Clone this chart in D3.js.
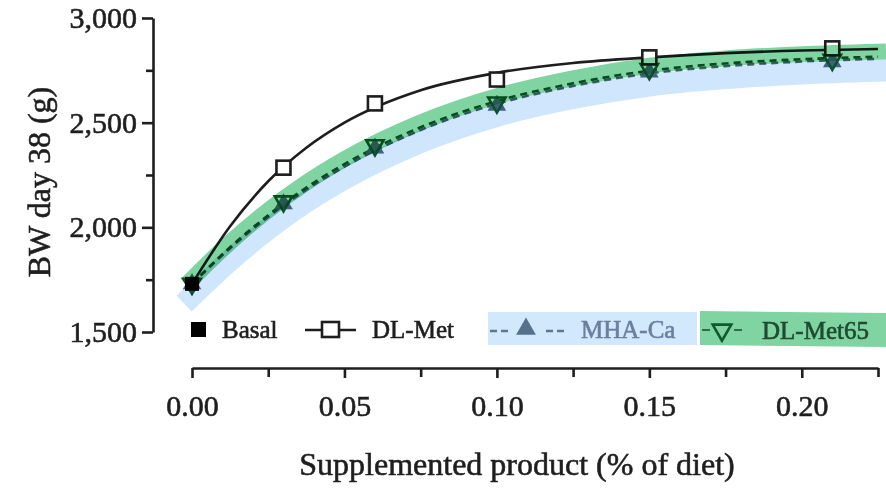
<!DOCTYPE html>
<html>
<head>
<meta charset="utf-8">
<script src="https://cdn.jsdelivr.net/npm/d3@7"></script>
<style>
  body { margin: 0; background: #fff; }
  svg { display: block; font-family: "Liberation Serif", "DejaVu Serif", serif; }
  text { paint-order: stroke; stroke-width: 0.6px; }
</style>
</head>
<body>
<svg id="chart" width="886" height="488"></svg>
<script>
// measured points (x = % of diet)
const doses = [0, 0.03, 0.06, 0.10, 0.15, 0.21];
const basal = [1730];
const dlMet = [1730, 2285, 2592, 2706, 2812, 2855];
const mhaCa = [1730, 2112, 2378, 2582, 2742, 2790];
const dlMet65 = [1730, 2124, 2392, 2596, 2756, 2800];

// fitted curves
const fitX = [0, 0.0125, 0.025, 0.0375, 0.05, 0.075, 0.10, 0.125, 0.15, 0.175, 0.20, 0.225];
const fitDlMet = [1730, 2005, 2220, 2380, 2500, 2655, 2738, 2785, 2812, 2832, 2845, 2852];
const fitMhaCa = [1730, 1900, 2050, 2180, 2290, 2465, 2590, 2675, 2735, 2770, 2792, 2805];
const fitDlMet65 = [1730, 1905, 2058, 2190, 2302, 2478, 2603, 2688, 2748, 2783, 2803, 2815];

const yTicks = [1500, 2000, 2500, 3000];
const yMinor = [1750, 2250, 2750];
const xTicks = [0, 0.05, 0.10, 0.15, 0.20];
const xMinor = [0.025, 0.075, 0.125, 0.175, 0.225];

const svg = d3.select("#chart");
const x = d3.scaleLinear().domain([0, 0.225]).range([192, 878]);
const y = d3.scaleLinear().domain([1500, 3000]).range([332, 18]);
const ink = "#1e1e1e";

// y axis
svg.append("g").attr("transform", "translate(153,0)")
    .call(d3.axisLeft(y).tickValues(yTicks).tickFormat(d3.format(",")).tickSize(11).tickSizeOuter(0).tickPadding(5));
svg.append("g").attr("transform", "translate(153,0)")
    .call(d3.axisLeft(y).tickValues(yMinor).tickFormat("").tickSize(7).tickSizeOuter(0))
    .select(".domain").remove();

// x axis
svg.append("g").attr("transform", "translate(0,368)")
    .call(d3.axisBottom(x).tickValues(xTicks).tickFormat(d3.format(".2f")).tickSize(10).tickSizeOuter(0).tickPadding(17));
svg.append("g").attr("transform", "translate(0,368)")
    .call(d3.axisBottom(x).tickValues(xMinor).tickFormat("").tickSize(9).tickSizeOuter(0))
    .select(".domain").remove();

svg.selectAll(".domain, .tick line").attr("stroke", ink).attr("stroke-width", 2.6);
svg.selectAll(".tick text").attr("font-size", 30).attr("fill", ink).attr("stroke", ink)
    .attr("font-family", "Liberation Serif");

// axis titles
svg.append("text").attr("transform", "translate(50,182) rotate(-90)")
    .attr("text-anchor", "middle").attr("font-size", 32).attr("fill", ink).attr("stroke", ink)
    .text("BW day 38 (g)");
svg.append("text").attr("x", 517).attr("y", 475)
    .attr("text-anchor", "middle").attr("font-size", 32).attr("fill", ink).attr("stroke", ink)
    .text("Supplemented product (% of diet)");

const fitLine = vals => d3.line().x((d, i) => x(fitX[i])).y(d => y(d)).curve(d3.curveMonotoneX)(vals);

// fitted lines
svg.append("path").attr("d", fitLine(fitMhaCa)).attr("fill", "none")
    .attr("stroke", "#4f6b84").attr("stroke-width", 2.6).attr("stroke-dasharray", "7,5");
svg.append("path").attr("d", fitLine(fitDlMet65)).attr("fill", "none")
    .attr("stroke", "#0f5a2d").attr("stroke-width", 2.6).attr("stroke-dasharray", "7,5");
svg.append("path").attr("d", fitLine(fitDlMet)).attr("fill", "none")
    .attr("stroke", ink).attr("stroke-width", 2.6);

// markers
const tri = d3.symbol().type(d3.symbolTriangle).size(150);
svg.selectAll(".mha").data(mhaCa).join("path")
    .attr("transform", (d, i) => `translate(${x(doses[i])},${y(d)})`)
    .attr("d", tri).attr("fill", "#4f6b84");
svg.selectAll(".dm65").data(dlMet65).join("path")
    .attr("transform", (d, i) => `translate(${x(doses[i])},${y(d)}) rotate(180)`)
    .attr("d", d3.symbol().type(d3.symbolTriangle).size(130)).attr("fill", "none")
    .attr("stroke", "#0f5a2d").attr("stroke-width", 2.6);
svg.selectAll(".dm").data(dlMet.slice(1)).join("rect")
    .attr("x", (d, i) => x(doses[i + 1]) - 7).attr("y", d => y(d) - 7)
    .attr("width", 14).attr("height", 14)
    .attr("fill", "#fff").attr("stroke", ink).attr("stroke-width", 2.6);
svg.selectAll(".basal").data(basal).join("rect")
    .attr("x", x(0) - 7).attr("y", d => y(d) - 7)
    .attr("width", 14).attr("height", 14).attr("fill", "#000");

// highlighter strokes
const shift = (vals, dy) => d3.line().x((d, i) => x(fitX[i])).y(d => y(d) + dy).curve(d3.curveMonotoneX)(vals);
svg.append("path").attr("d", shift(fitMhaCa, 12)).attr("fill", "none")
    .attr("stroke", "#cfe6fc").attr("stroke-width", 22).attr("stroke-linecap", "square")
    .style("mix-blend-mode", "multiply");
svg.append("path").attr("d", shift(fitDlMet65, -5)).attr("fill", "none")
    .attr("stroke", "#7fd4a2").attr("stroke-width", 16).attr("stroke-linecap", "square")
    .style("mix-blend-mode", "multiply");

// legend
const lg = svg.append("g").attr("font-size", 25);
const ly = 330;
lg.append("rect").attr("x", 191).attr("y", ly - 8).attr("width", 15).attr("height", 15).attr("fill", "#000");
lg.append("text").attr("x", 222).attr("y", ly + 8).attr("fill", ink).attr("stroke", ink).text("Basal");

lg.append("line").attr("x1", 305).attr("x2", 356).attr("y1", ly).attr("y2", ly).attr("stroke", ink).attr("stroke-width", 2.6);
lg.append("rect").attr("x", 322).attr("y", ly - 8).attr("width", 17).attr("height", 15)
    .attr("fill", "#fff").attr("stroke", ink).attr("stroke-width", 2.6);
lg.append("text").attr("x", 372).attr("y", ly + 8).attr("fill", ink).attr("stroke", ink).text("DL-Met");

lg.append("rect").attr("x", 488).attr("y", 312).attr("width", 209).attr("height", 33).attr("fill", "#d2e8fc");
lg.append("line").attr("x1", 490).attr("x2", 512).attr("y1", ly + 1).attr("y2", ly + 1)
    .attr("stroke", "#5f7890").attr("stroke-width", 2.6).attr("stroke-dasharray", "7,4");
lg.append("path").attr("transform", `translate(526,${ly - 1})`).attr("d", d3.symbol().type(d3.symbolTriangle).size(170)).attr("fill", "#55718b");
lg.append("line").attr("x1", 546).attr("x2", 568).attr("y1", ly + 1).attr("y2", ly + 1)
    .attr("stroke", "#5f7890").attr("stroke-width", 2.6).attr("stroke-dasharray", "7,4");
lg.append("text").attr("x", 581).attr("y", ly + 8).attr("fill", "#6b7e9c").attr("stroke", "#6b7e9c").text("MHA-Ca");

lg.append("path").attr("d", "M700,311 L886,313 L886,347 L700,345 Z").attr("fill", "#7fd4a2");
lg.append("line").attr("x1", 702).attr("x2", 710).attr("y1", ly).attr("y2", ly)
    .attr("stroke", "#2f6e45").attr("stroke-width", 2);
lg.append("path").attr("transform", `translate(722,${ly}) rotate(180)`).attr("d", d3.symbol().type(d3.symbolTriangle).size(150))
    .attr("fill", "none").attr("stroke", "#0f5a2d").attr("stroke-width", 2.6);
lg.append("line").attr("x1", 734).attr("x2", 742).attr("y1", ly).attr("y2", ly)
    .attr("stroke", "#2f6e45").attr("stroke-width", 2);
lg.append("text").attr("x", 762).attr("y", ly + 9).attr("fill", "#1d4a30").attr("stroke", "#1d4a30").text("DL-Met65");
</script>
</body>
</html>
